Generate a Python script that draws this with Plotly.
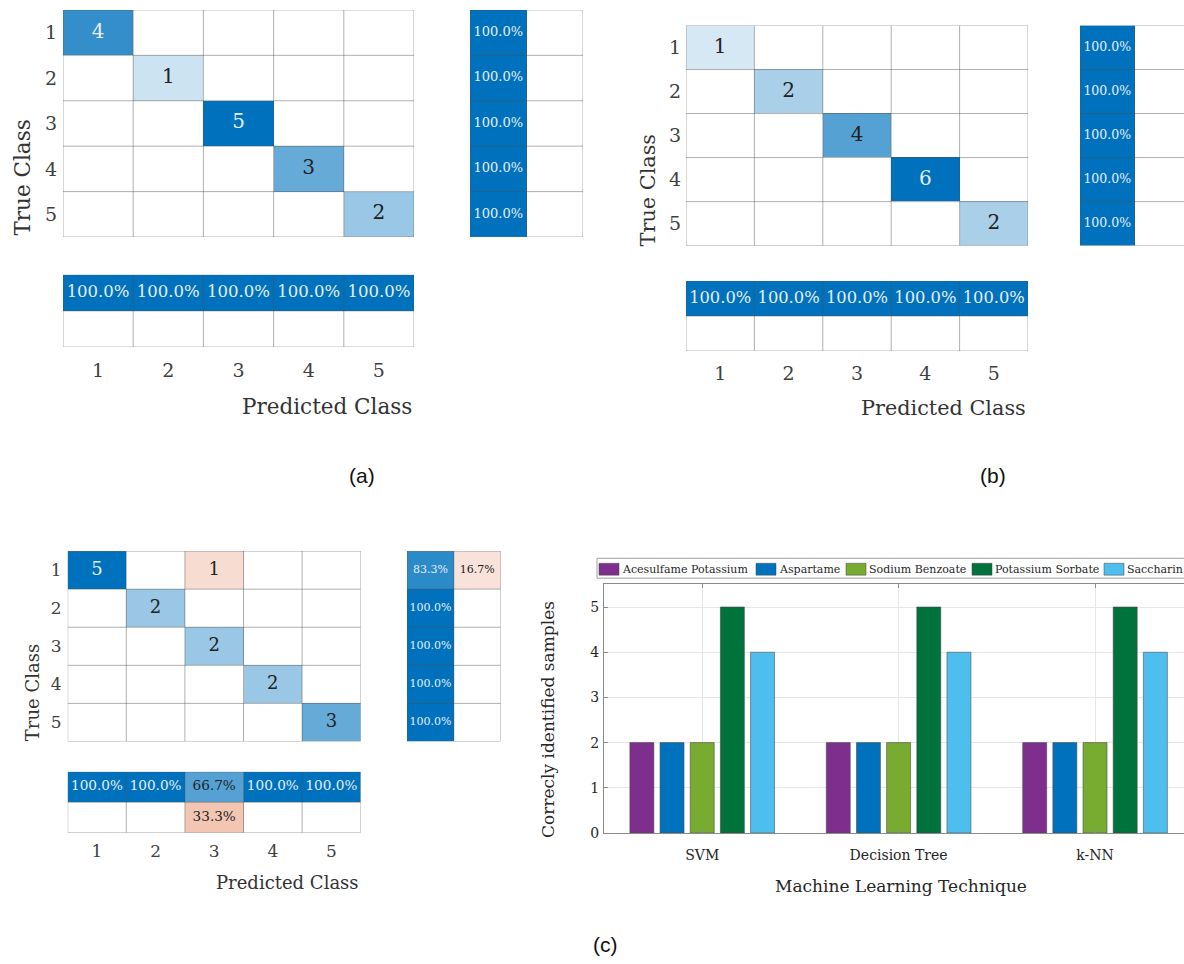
import plotly.graph_objects as go

W, H = 1184, 964
SERIF = "DejaVu Serif"
SANS = "Liberation Sans"

# ---------------- data ----------------
class_ids = [1, 2, 3, 4, 5]
class_labels = ["1", "2", "3", "4", "5"]

# panel (a)
cm_a = [[4, 0, 0, 0, 0],
        [0, 1, 0, 0, 0],
        [0, 0, 5, 0, 0],
        [0, 0, 0, 3, 0],
        [0, 0, 0, 0, 2]]
row_correct_a = [100.0, 100.0, 100.0, 100.0, 100.0]
row_wrong_a = [0.0, 0.0, 0.0, 0.0, 0.0]
col_correct_a = [100.0, 100.0, 100.0, 100.0, 100.0]
col_wrong_a = [0.0, 0.0, 0.0, 0.0, 0.0]

# panel (b)
cm_b = [[1, 0, 0, 0, 0],
        [0, 2, 0, 0, 0],
        [0, 0, 4, 0, 0],
        [0, 0, 0, 6, 0],
        [0, 0, 0, 0, 2]]
row_correct_b = [100.0, 100.0, 100.0, 100.0, 100.0]
row_wrong_b = [0.0, 0.0, 0.0, 0.0, 0.0]
col_correct_b = [100.0, 100.0, 100.0, 100.0, 100.0]
col_wrong_b = [0.0, 0.0, 0.0, 0.0, 0.0]

# panel (c)
cm_c = [[5, 0, 1, 0, 0],
        [0, 2, 0, 0, 0],
        [0, 0, 2, 0, 0],
        [0, 0, 0, 2, 0],
        [0, 0, 0, 0, 3]]
row_correct_c = [83.3, 100.0, 100.0, 100.0, 100.0]
row_wrong_c = [16.7, 0.0, 0.0, 0.0, 0.0]
col_correct_c = [100.0, 100.0, 66.7, 100.0, 100.0]
col_wrong_c = [0.0, 0.0, 33.3, 0.0, 0.0]

# bar chart
techniques = ["SVM", "Decision Tree", "k-NN"]
compound_names = ["Acesulfame Potassium", "Aspartame", "Sodium Benzoate",
                  "Potassium Sorbate", "Saccharin"]
acesulfame_potassium = [2, 2, 2]
aspartame = [2, 2, 2]
sodium_benzoate = [2, 2, 2]
potassium_sorbate = [5, 5, 5]
saccharin = [4, 4, 4]
compound_values = [acesulfame_potassium, aspartame, sodium_benzoate,
                   potassium_sorbate, saccharin]

# ---------------- styles ----------------
compound_colors = ["#7E2F8E", "#0072BD", "#77AC30", "#00723C", "#4DBEEE"]
CM_SCALE = [[0.0, "rgb(217,83,25)"], [0.5, "rgb(255,255,255)"], [1.0, "rgb(0,114,189)"]]
GRID = "rgba(80,80,80,0.45)"
DARK_TXT = "#222222"
LIGHT_TXT = "#e6eef7"

fig = go.Figure()
layout = {}
shapes = []
annotations = []
axn = [0]


def dom_x(l, r):
    return [l / W, min(r, W) / W]


def dom_y(t, b):
    return [1 - b / H, 1 - t / H]


def new_axes(xdom, ydom, xrange, yrange, xkw=None, ykw=None):
    axn[0] += 1
    n = axn[0]
    sfx = "" if n == 1 else str(n)
    xa = dict(domain=xdom, range=xrange, anchor="y" + sfx, showgrid=False,
              zeroline=False, showline=False, ticks="", showticklabels=False,
              fixedrange=True)
    ya = dict(domain=ydom, range=yrange, anchor="x" + sfx, showgrid=False,
              zeroline=False, showline=False, ticks="", showticklabels=False,
              fixedrange=True)
    xa.update(xkw or {})
    ya.update(ykw or {})
    layout["xaxis" + sfx] = xa
    layout["yaxis" + sfx] = ya
    return "x" + sfx, "y" + sfx


def add_grid(xr, yr, ncols, nrows):
    for k in range(ncols + 1):
        shapes.append(dict(type="line", xref=xr, yref=yr, x0=0.5 + k, x1=0.5 + k,
                           y0=0.5, y1=nrows + 0.5, line=dict(color=GRID, width=1)))
    for k in range(nrows + 1):
        shapes.append(dict(type="line", xref=xr, yref=yr, x0=0.5, x1=ncols + 0.5,
                           y0=0.5 + k, y1=0.5 + k, line=dict(color=GRID, width=1)))


def txt_color(zv):
    return LIGHT_TXT if zv >= 0.7 else DARK_TXT


def add_cells(xr, yr, xs, ys, z, labels, size):
    fig.add_trace(go.Heatmap(x=xs, y=ys, z=z, colorscale=CM_SCALE, zmin=-1, zmax=1,
                             showscale=False, hoverinfo="skip", xaxis=xr, yaxis=yr))
    tx, ty, tt, tc = [], [], [], []
    for i, yv in enumerate(ys):
        for j, xv in enumerate(xs):
            if labels[i][j]:
                tx.append(xv)
                ty.append(yv)
                tt.append(labels[i][j])
                tc.append(txt_color(z[i][j]))
    fig.add_trace(go.Scatter(x=tx, y=ty, text=tt, mode="text",
                             textfont=dict(family=SERIF, size=size, color=tc),
                             showlegend=False, hoverinfo="skip", xaxis=xr, yaxis=yr))


def confusion_panel(cm, rc, rw, cc, cw, g):
    n = len(class_ids)
    peak = max(max(r) for r in cm)
    z = [[(v / peak if i == j else -v / peak) for j, v in enumerate(row)]
         for i, row in enumerate(cm)]
    lab = [[(str(v) if v else "") for v in row] for row in cm]
    tickfont = dict(family=SERIF, size=g["tick"], color="#404040")

    # main matrix
    l, r, t, b = g["main"]
    xr, yr = new_axes(dom_x(l, r), dom_y(t, b), [0.5, n + 0.5], [n + 0.5, 0.5],
                      ykw=dict(showticklabels=True, tickvals=class_ids, ticktext=class_labels,
                               tickfont=tickfont, ticklabelstandoff=g["ystand"]))
    add_cells(xr, yr, class_ids, class_ids, z, lab, g["cell"])
    add_grid(xr, yr, n, n)

    # row summary
    l, r, t, b = g["rows"]
    xmax = 0.5 + 2 * (min(r, W) - l) / (r - l)
    xr, yr = new_axes(dom_x(l, r), dom_y(t, b), [0.5, xmax], [n + 0.5, 0.5])
    zr = [[rc[i] / 100, -rw[i] / 100] for i in range(n)]
    lr = [[(f"{rc[i]:.1f}%" if rc[i] else ""), (f"{rw[i]:.1f}%" if rw[i] else "")]
          for i in range(n)]
    add_cells(xr, yr, [1, 2], class_ids, zr, lr, g["rowpct"])
    add_grid(xr, yr, 2, n)

    # column summary
    l, r, t, b = g["cols"]
    xr, yr = new_axes(dom_x(l, r), dom_y(t, b), [0.5, n + 0.5], [2.5, 0.5],
                      xkw=dict(showticklabels=True, tickvals=class_ids, ticktext=class_labels,
                               tickfont=tickfont, ticklabelstandoff=g["xstand"]))
    zc = [[cc[j] / 100 for j in range(n)], [-cw[j] / 100 for j in range(n)]]
    lc = [[(f"{cc[j]:.1f}%" if cc[j] else "") for j in range(n)],
          [(f"{cw[j]:.1f}%" if cw[j] else "") for j in range(n)]]
    add_cells(xr, yr, class_ids, [1, 2], zc, lc, g["colpct"])
    add_grid(xr, yr, n, 2)

    # titles
    annotations.append(dict(text="Predicted Class", xref="paper", yref="paper",
                            x=g["main"][1] / W, y=1 - g["xlab_y"] / H, xanchor="right",
                            yanchor="middle", showarrow=False,
                            font=dict(family=SERIF, size=g["title"], color="#333333")))
    annotations.append(dict(text="True Class", xref="paper", yref="paper",
                            x=g["ylab"][0] / W, y=1 - g["ylab"][1] / H, xanchor="center",
                            yanchor="middle", textangle=-90, showarrow=False,
                            font=dict(family=SERIF, size=g["title"], color="#333333")))
    annotations.append(dict(text=g["tag"][0], xref="paper", yref="paper",
                            x=g["tag"][1] / W, y=1 - g["tag"][2] / H, xanchor="center",
                            yanchor="middle", showarrow=False,
                            font=dict(family=SANS, size=21, color="#111111")))


confusion_panel(cm_a, row_correct_a, row_wrong_a, col_correct_a, col_wrong_a,
                dict(main=(63, 414, 10, 239), rows=(470, 583, 10, 239), cols=(63, 414, 277, 350),
                     tick=19, cell=20, colpct=16.5, rowpct=13, title=21.5,
                     ystand=5, xstand=10, xlab_y=410, ylab=(23, 179), tag=("(a)", 362, 479)))
confusion_panel(cm_b, row_correct_b, row_wrong_b, col_correct_b, col_wrong_b,
                dict(main=(686, 1028, 25.7, 247.7), rows=(1080, 1189, 25.7, 247.7),
                     cols=(686, 1028, 283.3, 354),
                     tick=19, cell=20, colpct=16.3, rowpct=12.5, title=20.8,
                     ystand=4, xstand=9, xlab_y=411, ylab=(648, 192), tag=("(b)", 993, 479)))
confusion_panel(cm_c, row_correct_c, row_wrong_c, col_correct_c, col_wrong_c,
                dict(main=(67.7, 360.7, 555.7, 747.7), rows=(407, 500.7, 555.7, 747.7),
                     cols=(67.7, 360.7, 778.3, 839.7),
                     tick=17, cell=18, colpct=13.6, rowpct=11, title=18,
                     ystand=5, xstand=6, xlab_y=890, ylab=(32, 699), tag=("(c)", 605, 952)))

# ---------------- bar chart ----------------
bx, by = new_axes(
    dom_x(604, 1184), dom_y(589.3, 840), [-0.5, 2.453], [0, 5.5],
    xkw=dict(type="category", showticklabels=True, showgrid=True, gridcolor="#e6e6e6",
             showline=True, linecolor="#8c8c8c", mirror="ticks", ticks="inside", ticklen=4,
             tickcolor="#8c8c8c", tickfont=dict(family=SERIF, size=14, color="#262626"),
             ticklabelstandoff=9),
    ykw=dict(showticklabels=True, tickvals=[0, 1, 2, 3, 4, 5], showgrid=True,
             gridcolor="#e6e6e6", showline=True, linecolor="#8c8c8c", ticks="inside",
             ticklen=4, tickcolor="#8c8c8c",
             tickfont=dict(family=SERIF, size=14, color="#262626"), ticklabelstandoff=1))

for name, vals, col in zip(compound_names, compound_values, compound_colors):
    fig.add_trace(go.Bar(x=techniques, y=vals, name=name, xaxis=bx, yaxis=by,
                         marker=dict(color=col, line=dict(color="rgba(70,70,70,0.55)", width=1)),
                         showlegend=False, hoverinfo="skip"))

annotations.append(dict(text="Machine Learning Technique", xref="paper", yref="paper",
                        x=900.8 / W, y=1 - 893 / H, xanchor="center", yanchor="middle",
                        showarrow=False, font=dict(family=SERIF, size=17, color="#262626")))
annotations.append(dict(text="Correcly identified samples", xref="paper", yref="paper",
                        x=548 / W, y=1 - 726 / H, xanchor="center", yanchor="middle",
                        textangle=-90, showarrow=False,
                        font=dict(family=SERIF, size=17, color="#262626")))

# legend key above the bar chart
legend_swatch_x = [599, 756, 846, 972, 1104]
shapes.append(dict(type="rect", xref="paper", yref="paper", x0=597 / W, x1=1200 / W,
                   y0=1 - 583 / H, y1=1 - 563 / H, line=dict(color="#a0a0a0", width=1),
                   fillcolor="white", layer="below"))
for sx, name, col in zip(legend_swatch_x, compound_names, compound_colors):
    shapes.append(dict(type="rect", xref="paper", yref="paper", x0=sx / W, x1=(sx + 20) / W,
                       y0=1 - 580 / H, y1=1 - 568 / H, fillcolor=col,
                       line=dict(color="rgba(70,70,70,0.5)", width=1)))
    annotations.append(dict(text=name, xref="paper", yref="paper", x=(sx + 20.5) / W,
                            y=1 - 574 / H, xanchor="left", yanchor="middle", showarrow=False,
                            font=dict(family=SERIF, size=11, color="#262626")))

fig.update_layout(**layout)
fig.update_layout(width=W, height=H, margin=dict(l=0, r=0, t=0, b=0, pad=0),
                  paper_bgcolor="white", plot_bgcolor="white", showlegend=False,
                  barmode="group", bargap=0.232, bargroupgap=0.205,
                  shapes=shapes, annotations=annotations)

fig.write_html("out.html")
